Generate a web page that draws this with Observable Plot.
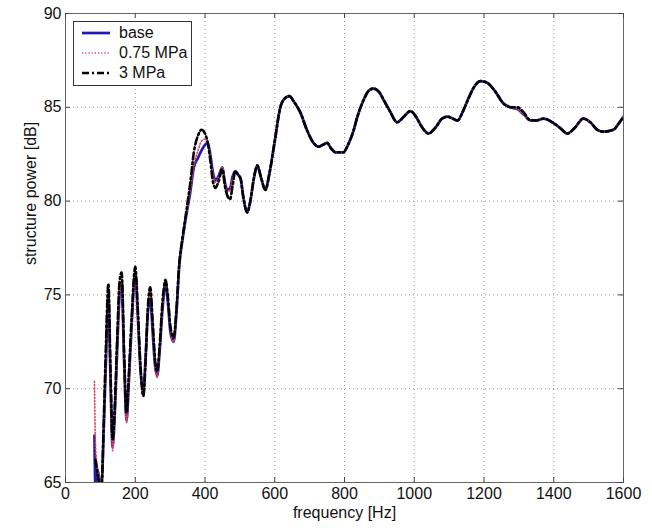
<!DOCTYPE html>
<html><head><meta charset="utf-8">
<script src="https://cdn.jsdelivr.net/npm/d3@7"></script>
<script src="https://cdn.jsdelivr.net/npm/@observablehq/plot@0.6"></script>
<style>
body{margin:0;background:#fff;}
#wrap{position:relative;width:652px;height:528px;}
#legend{position:absolute;left:73px;top:21px;width:119px;height:65px;border:1px solid #333;background:#fff;box-sizing:border-box;font:16px "Liberation Sans",Arial,sans-serif;color:#111;}
#legend .row{position:absolute;left:0;height:20px;display:flex;align-items:center;}
#legend svg{margin-left:8px;margin-right:9px;}
</style></head><body><div id="wrap"></div>
<script>
const freq = [83,86,91,97,103,110,116,123,129,135,141,148,155,161,168,175,182,190,200,207,215,223,230,236,243,250,257,263,270,278,287,294,301,310,318,326,336,346,358,368,380,390,400,408,415,423,430,438,450,457,464,472,479,487,495,502,510,521,530,540,550,560,573,585,600,616,630,642,655,674,692,711,725,738,750,762,774,786,797,810,825,837,855,870,883,900,912,930,951,970,989,1005,1020,1041,1060,1080,1095,1110,1124,1140,1156,1172,1190,1210,1230,1256,1276,1296,1315,1333,1350,1371,1396,1418,1439,1460,1485,1505,1525,1543,1571,1585,1600];
const base = [67.5,64.6,65.7,65.2,64.8,68.0,71.5,75.0,70.5,66.9,68.5,72.0,75.0,75.7,71.5,68.3,70.5,73.5,76.2,74.0,71.0,69.8,71.8,74.0,74.8,73.0,71.2,70.7,72.0,74.2,75.6,74.5,73.0,72.5,74.0,76.5,78.0,79.2,80.5,81.8,82.3,82.7,83.0,83.1,82.5,81.5,81.1,81.3,81.8,81.0,80.6,80.7,81.3,81.6,81.4,81.2,80.2,79.4,80.0,81.2,81.9,81.3,80.6,81.5,83.2,85.0,85.5,85.6,85.3,84.7,83.8,83.1,82.9,83.0,83.1,82.8,82.6,82.6,82.6,83.0,83.7,84.5,85.4,85.9,86.0,85.8,85.4,84.8,84.2,84.5,84.8,84.5,84.0,83.6,83.9,84.4,84.5,84.4,84.3,84.8,85.5,86.1,86.4,86.3,85.9,85.2,85.0,84.9,84.6,84.3,84.3,84.4,84.2,83.9,83.6,83.9,84.4,84.2,83.8,83.7,83.8,84.1,84.5];
const mpa075 = [70.4,67.0,65.9,65.3,64.9,67.8,71.3,74.9,70.3,66.7,68.4,71.9,75.0,75.6,71.4,68.2,70.4,73.4,76.1,73.9,70.9,69.8,71.9,74.3,75.2,73.2,71.1,70.6,72.0,74.2,75.7,74.6,73.1,72.5,74.0,76.5,78.0,79.2,80.6,81.9,82.7,83.2,83.3,83.0,82.4,81.4,81.0,81.2,81.8,81.0,80.5,80.6,81.2,81.6,81.4,81.2,80.2,79.4,80.0,81.2,81.9,81.3,80.6,81.5,83.2,85.0,85.5,85.6,85.3,84.7,83.8,83.1,82.9,83.0,83.1,82.8,82.6,82.6,82.6,83.0,83.7,84.5,85.4,85.9,86.0,85.8,85.4,84.8,84.2,84.5,84.8,84.5,84.0,83.6,83.9,84.4,84.5,84.4,84.3,84.8,85.5,86.1,86.4,86.3,85.9,85.2,85.0,84.9,84.6,84.3,84.3,84.4,84.2,83.9,83.6,83.9,84.4,84.2,83.8,83.7,83.8,84.1,84.5];
const mpa3 = [null,66.2,65.6,64.9,64.7,68.5,72.3,75.6,71.0,67.3,68.9,72.6,75.7,76.2,72.0,68.7,70.9,73.9,76.5,74.4,71.2,69.6,71.6,74.3,75.4,73.6,71.5,70.9,72.3,74.6,75.8,74.8,73.3,72.7,74.2,76.6,78.1,79.4,81.0,82.6,83.5,83.8,83.6,83.1,82.2,81.0,80.7,81.0,81.7,80.8,80.3,80.1,80.8,81.6,81.4,81.2,80.2,79.4,80.0,81.2,81.9,81.3,80.6,81.5,83.2,85.0,85.5,85.6,85.3,84.7,83.8,83.1,82.9,83.0,83.1,82.8,82.6,82.6,82.6,83.0,83.7,84.5,85.4,85.9,86.0,85.8,85.4,84.8,84.2,84.5,84.8,84.5,84.0,83.6,83.9,84.4,84.5,84.4,84.3,84.8,85.5,86.1,86.4,86.3,85.9,85.2,85.0,85.0,84.7,84.3,84.3,84.4,84.2,83.9,83.6,83.9,84.4,84.2,83.8,83.7,83.8,84.1,84.5];
const xTicks = [0,200,400,600,800,1000,1200,1400,1600];
const yTicks = [65,70,75,80,85,90];
const seriesNames = ["base","0.75 MPa","3 MPa"];
const xLabel = "frequency [Hz]";
const yLabel = "structure power [dB]";

const styles = [
  {stroke:"#1c1cb4", strokeWidth:2.7, dash:null},
  {stroke:"#e0405a", strokeWidth:1.6, dash:"1.2,2"},
  {stroke:"#000000", strokeWidth:2.6, dash:"7,3,2,3"}
];
const seriesValues = [base, mpa075, mpa3];
const rows = seriesValues.map(vals => freq.map((f,i)=>({f, v: vals[i]})).filter(d => d.v != null));

const W = 652, H = 528, mt = 13, mb = 46, ml = 65, mr = 29;
const fh = H - mt - mb, fw = W - ml - mr;

const chart = Plot.plot({
  width: W, height: H,
  marginTop: mt, marginBottom: mb, marginLeft: ml, marginRight: mr,
  style: {fontFamily: "'Liberation Sans', Arial, sans-serif", fontSize: "16px", color: "#111", background: "#fff"},
  x: {domain: [0,1600], ticks: xTicks},
  y: {domain: [65,90], ticks: yTicks},
  marks: [
    Plot.gridX(xTicks, {stroke:"#999", strokeOpacity:1, strokeDasharray:"1,3"}),
    Plot.gridY(yTicks, {stroke:"#999", strokeOpacity:1, strokeDasharray:"1,3"}),
    ...rows.map((r,k) => Plot.line(r, {x:"f", y:"v", stroke: styles[k].stroke, strokeWidth: styles[k].strokeWidth, strokeDasharray: styles[k].dash, curve:"monotone-x", clip:true})),
    Plot.frame({stroke:"#666"}),
    Plot.ruleX(xTicks, {x: d=>d, insetTop: fh-5, stroke:"#444"}),
    Plot.ruleX(xTicks, {x: d=>d, insetBottom: fh-5, stroke:"#444"}),
    Plot.ruleY(yTicks, {y: d=>d, insetRight: fw-5, stroke:"#444"}),
    Plot.ruleY(yTicks, {y: d=>d, insetLeft: fw-5, stroke:"#444"}),
    Plot.axisX(xTicks, {tickSize:0, tickPadding:5, label:null, tickFormat: d => String(d)}),
    Plot.axisY(yTicks, {tickSize:0, tickPadding:4, label:null, tickFormat: d => String(d)}),
    Plot.text([xLabel], {frameAnchor:"bottom", dy:35, text:d=>d}),
    Plot.text([yLabel], {frameAnchor:"left", rotate:-90, dx:-35, dy:17, text:d=>d})
  ]
});
const wrap = document.getElementById("wrap");
wrap.appendChild(chart);

const leg = document.createElement("div");
leg.id = "legend";
seriesNames.forEach((name,k) => {
  const row = document.createElement("div");
  row.className = "row";
  row.style.top = (1 + k*20) + "px";
  const s = styles[k];
  row.innerHTML = `<svg width="28" height="10"><line x1="0" y1="5" x2="28" y2="5" stroke="${s.stroke}" stroke-width="${s.strokeWidth}" ${s.dash ? `stroke-dasharray="${s.dash}"` : ""}/></svg><span>${name}</span>`;
  leg.appendChild(row);
});
wrap.appendChild(leg);
</script>
</body></html>
